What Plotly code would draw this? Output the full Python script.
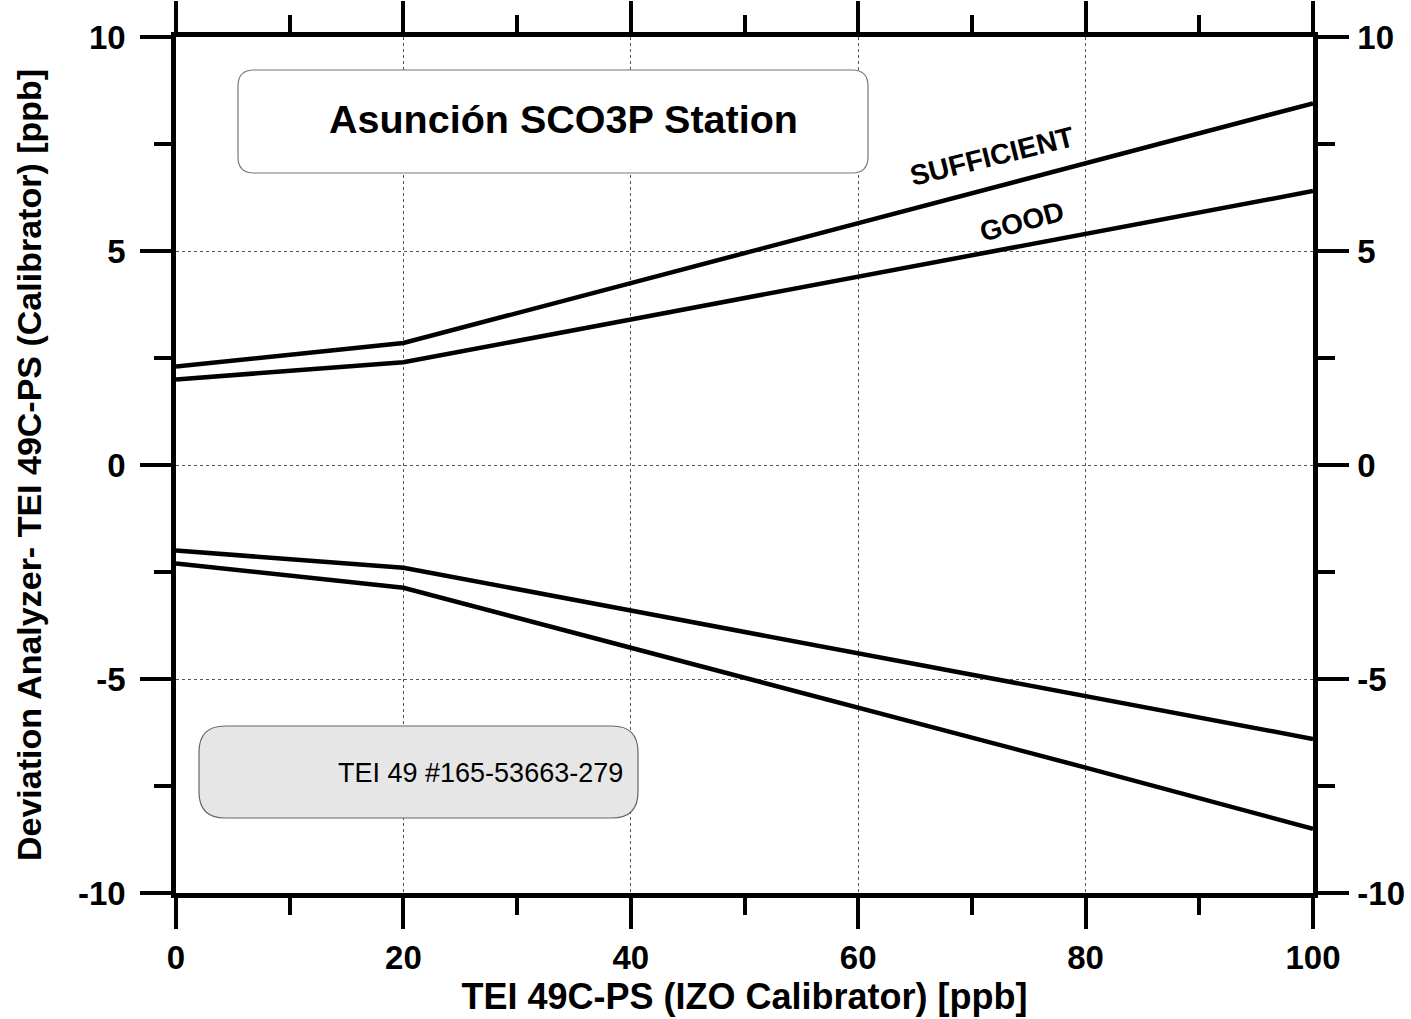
import plotly.graph_objects as go

# ---- data ----
x_vals = [0, 20, 40, 60, 80, 100]
good_upper = [2.0, 2.4, 3.4, 4.4, 5.4, 6.4]
good_lower = [-2.0, -2.4, -3.4, -4.4, -5.4, -6.4]
sufficient_upper = [2.3, 2.85, 4.25, 5.65, 7.05, 8.45]
sufficient_lower = [-2.3, -2.87, -4.27, -5.67, -7.07, -8.5]

x_ticks = [0, 20, 40, 60, 80, 100]
x_tick_labels = ["0", "20", "40", "60", "80", "100"]
y_ticks = [-10, -5, 0, 5, 10]
y_tick_labels = ["-10", "-5", "0", "5", "10"]

title_text = "Asunción SCO3P Station"
instrument_text = "TEI 49 #165-53663-279"
x_title = "TEI 49C-PS (IZO Calibrator) [ppb]"
y_title = "Deviation Analyzer- TEI 49C-PS (Calibrator) [ppb]"

# ---- layout geometry ----
W, H = 1411, 1019
L, R, T, B = 176, 1313, 37, 893

def to_paper(px, py):
    return (px - L) / (R - L), (B - py) / (B - T)

def rrect_path(x0, y0, x1, y1, r):
    def P(px, py):
        a, b = to_paper(px, py)
        return f"{a:.5f},{b:.5f}"
    return (f"M {P(x0 + r, y0)} L {P(x1 - r, y0)} Q {P(x1, y0)} {P(x1, y0 + r)} "
            f"L {P(x1, y1 - r)} Q {P(x1, y1)} {P(x1 - r, y1)} "
            f"L {P(x0 + r, y1)} Q {P(x0, y1)} {P(x0, y1 - r)} "
            f"L {P(x0, y0 + r)} Q {P(x0, y0)} {P(x0 + r, y0)} Z")

BOLD = "Liberation Sans, Arial, sans-serif"

fig = go.Figure()
line_style = dict(color="black", width=4.5)
for ys in (sufficient_upper, good_upper, good_lower, sufficient_lower):
    fig.add_trace(go.Scatter(x=x_vals, y=ys, mode="lines", line=line_style,
                             showlegend=False, hoverinfo="skip"))
# invisible trace to carry the right-hand y axis
fig.add_trace(go.Scatter(x=x_vals, y=good_upper, yaxis="y2", mode="lines",
                         line=dict(width=0), opacity=0, showlegend=False,
                         hoverinfo="skip"))

minor_style = dict(ticks="outside", ticklen=17, tickwidth=4,
                   tickcolor="black", showgrid=False)
axis_common = dict(
    showline=True, linecolor="black", linewidth=4.5,
    ticks="outside", ticklen=31, tickwidth=4, tickcolor="black",
    tickfont=dict(family=BOLD, size=33, color="black", weight="bold"),
    zeroline=False, automargin=False,
)

fig.update_layout(
    width=W, height=H,
    margin=dict(l=L, r=W - R, t=T, b=H - B, autoexpand=False),
    paper_bgcolor="white", plot_bgcolor="white",
    showlegend=False,
    xaxis=dict(
        range=[0, 100], tickvals=x_ticks, ticktext=x_tick_labels, mirror="ticks",
        showgrid=True, gridcolor="#555", gridwidth=1, griddash="dot",
        minor=dict(dtick=10, **minor_style),
        title=dict(text=x_title, standoff=6,
                   font=dict(family=BOLD, size=36, color="black", weight="bold")),
        ticklabelstandoff=1,
        **axis_common,
    ),
    yaxis=dict(
        range=[-10, 10], tickvals=y_ticks, ticktext=y_tick_labels,
        showgrid=True, gridcolor="#555", gridwidth=1, griddash="dot",
        minor=dict(dtick=2.5, **minor_style),
        title=dict(text=y_title, standoff=28,
                   font=dict(family=BOLD, size=34, color="black", weight="bold")),
        ticklabelstandoff=8,
        **axis_common,
    ),
    yaxis2=dict(
        range=[-10, 10], tickvals=y_ticks, ticktext=y_tick_labels,
        overlaying="y", side="right", showgrid=False,
        minor=dict(dtick=2.5, **minor_style),
        ticklabelstandoff=2,
        **axis_common,
    ),
)

fig.add_shape(type="path", xref="paper", yref="paper",
              path=rrect_path(238, 70, 868, 173, 16),
              line=dict(color="#777", width=1.2), fillcolor="white", layer="above")
fig.add_shape(type="path", xref="paper", yref="paper",
              path=rrect_path(199, 726, 638, 818, 26),
              line=dict(color="#666", width=1.2), fillcolor="#e6e6e6", layer="above")

def note(px, py, text, size, angle=0, weight="bold"):
    ax, ay = to_paper(px, py)
    fig.add_annotation(xref="paper", yref="paper", x=ax, y=ay, text=text,
                       xanchor="center", yanchor="middle", textangle=angle,
                       showarrow=False,
                       font=dict(family=BOLD, size=size, color="black", weight=weight))

note(563, 119, title_text, 39.5)
note(480, 773, instrument_text, 27, weight="normal")
note(992, 156, "SUFFICIENT", 28.5, angle=-14)
note(1022, 221, "GOOD", 28, angle=-15)

fig.write_html("out.html")
